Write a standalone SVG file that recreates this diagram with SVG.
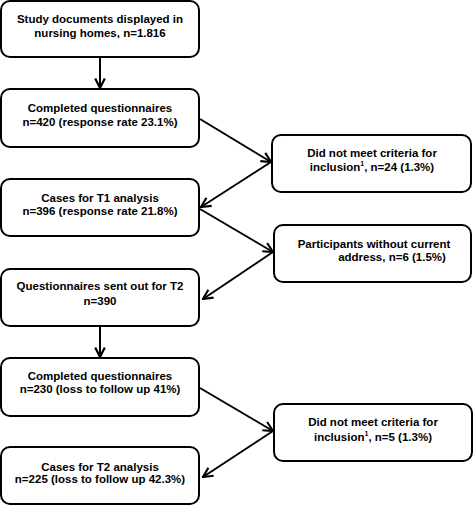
<svg xmlns="http://www.w3.org/2000/svg" width="474" height="506" viewBox="0 0 474 506">
<defs>
<style>
.box{fill:#fff;stroke:#000;stroke-width:2}
.t{font-family:"Liberation Sans",Arial,sans-serif;font-weight:bold;font-size:11.5px;text-anchor:middle;fill:#000}
.c{stroke:#000;stroke-width:2;fill:none;marker-end:url(#ah)}
</style>
<marker id="ah" viewBox="0 0 10 10" refX="9" refY="5" markerWidth="6" markerHeight="6" orient="auto" markerUnits="strokeWidth">
<path d="M1,1 L9,5 L1,9" fill="none" stroke="#000" stroke-width="1.8"/>
</marker>
</defs>
<rect width="474" height="506" fill="#fff"/>
<g id="connectors">
<line class="c" x1="100" y1="57" x2="100" y2="88"/>
<line class="c" x1="200" y1="119" x2="271" y2="162"/>
<line class="c" x1="271" y1="162" x2="201" y2="207"/>
<line class="c" x1="200" y1="209" x2="273" y2="252"/>
<line class="c" x1="273" y1="252" x2="203" y2="299"/>
<line class="c" x1="100" y1="326" x2="100" y2="357"/>
<line class="c" x1="200" y1="388" x2="273" y2="431"/>
<line class="c" x1="273" y1="431" x2="203" y2="477"/>
</g>
<g id="n1"><rect class="box" x="1" y="1" width="198" height="56" rx="9"/>
<text class="t" x="100" y="23">Study documents displayed in</text>
<text class="t" x="100" y="37">nursing homes, n=1.816</text></g>
<g id="n2"><rect class="box" x="1" y="89" width="198" height="58" rx="9"/>
<text class="t" x="100" y="112">Completed questionnaires</text>
<text class="t" x="100" y="126">n=420 (response rate 23.1%)</text></g>
<g id="n3"><rect class="box" x="272" y="135" width="199" height="57" rx="9"/>
<text class="t" x="372" y="157">Did not meet criteria for</text>
<text class="t" x="372" y="171">inclusion<tspan font-size="7" dy="-5">1</tspan><tspan dy="5">, n=24 (1.3%)</tspan></text></g>
<g id="n4"><rect class="box" x="1" y="179" width="198" height="57" rx="9"/>
<text class="t" x="100" y="202">Cases for T1 analysis</text>
<text class="t" x="100" y="215">n=396 (response rate 21.8%)</text></g>
<g id="n5"><rect class="box" x="274" y="225" width="197" height="57" rx="9"/>
<text class="t" x="374" y="248">Participants without current</text>
<text class="t" x="392" y="261">address, n=6 (1.5%)</text></g>
<g id="n6"><rect class="box" x="1" y="269" width="198" height="57" rx="9"/>
<text class="t" x="100" y="290">Questionnaires sent out for T2</text>
<text class="t" x="100" y="305">n=390</text></g>
<g id="n7"><rect class="box" x="1" y="358" width="198" height="58" rx="9"/>
<text class="t" x="100" y="380">Completed questionnaires</text>
<text class="t" x="100" y="393">n=230 (loss to follow up 41%)</text></g>
<g id="n8"><rect class="box" x="274" y="404" width="198" height="57" rx="9"/>
<text class="t" x="373" y="426">Did not meet criteria for</text>
<text class="t" x="373" y="441">inclusion<tspan font-size="7" dy="-5">1</tspan><tspan dy="5">, n=5 (1.3%)</tspan></text></g>
<g id="n9"><rect class="box" x="1" y="447" width="198" height="57" rx="9"/>
<text class="t" x="100" y="471">Cases for T2 analysis</text>
<text class="t" x="100" y="483">n=225 (loss to follow up 42.3%)</text></g>
</svg>
